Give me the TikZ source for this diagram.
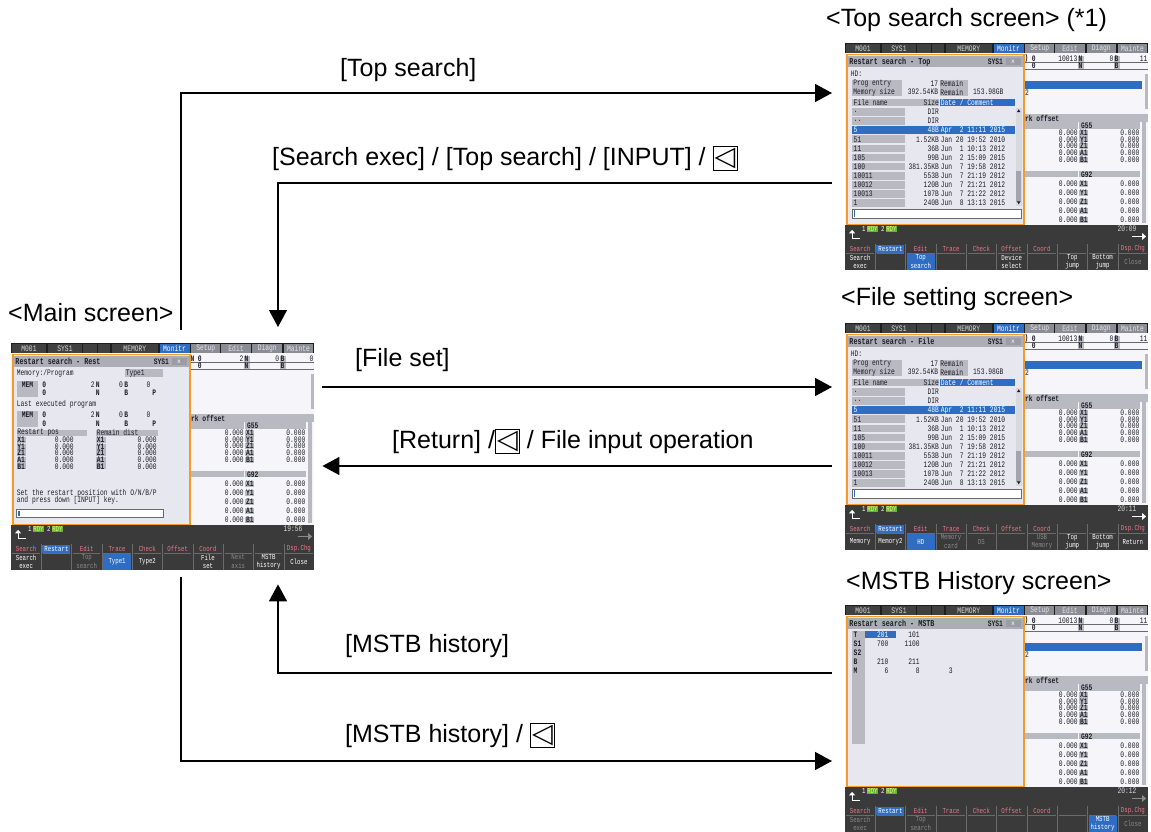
\documentclass[tikz,border=0pt]{standalone}
\usepackage{fontspec}
\setmainfont{Liberation Sans}
\newfontfamily\scrfont[FakeStretch=0.75]{Liberation Mono}
\newfontfamily\symfont{DejaVu Sans}
\usetikzlibrary{arrows.meta, positioning, calc}

\newcommand{\backkey}{{\setlength{\fboxsep}{1.2pt}\setlength{\fboxrule}{0.9pt}\fbox{\symfont\fontsize{27}{27}\selectfont ◁}}}
\newcommand{\scrsz}{\fontsize{8.4}{9}\scrfont}
\newcommand{\keysz}{\fontsize{7.6}{8.2}\scrfont}

% frame of one NC screen: tab bar, work offset panel, status bar, menu groups
\newcommand{\scrbase}[2]{%
  \fill[scrwhite] (0,11) rectangle (320,192);
  \fill[scrdark] (0,0) rectangle (320,11);
  \foreach \a/\b/\t in {1/37/M001, 39/75/SYS1, 106.5/155/MEMORY}{
    \fill[scrtab] (\a,1) rectangle (\b,10.3);
    \node[scrtxt, text=scrtabtext] (tab\t) at ({(\a+\b)/2},5.8) {\t};}
  \fill[scrtab] (76.5,1) rectangle (90.5,10.3);
  \fill[scrtab] (92,1) rectangle (105,10.3);
  \fill[scrblue] (157,1) rectangle (188.5,10.3);
  \node[scrtxt, text=white] (tabMonitr) at (172.7,5.8) {Monitr};
  \foreach \a/\t in {190/Setup, 222/Edit, 255/Diagn, 288/Mainte}{
    \fill[scrgrey] (\a,1) rectangle (\a+31.2,10.3);
    \node[scrtxt, text=scrgreytext] (tab\t) at (\a+15.6,5.8) {\t};}
  % work offset panel
  \draw[scrsep] (189,20.3) -- (320,20.3) (189,27.8) -- (320,27.8);
  \fill[scrcell] (316.3,32.5) rectangle (319.8,70);
  \fill[scrcell] (189,75.5) rectangle (320,83);
  \node[scrbold, anchor=west] (wo) at (190,79.3) {rk offset};
  \foreach \g/\y/\d in {G55/84/7.2, G92/135.5/9.6}{
    \fill[scrcell] (189,\y) rectangle (246.5,\y+6.6);
    \fill[scrcell] (247.5,\y) rectangle (312,\y+6.6);
    \node[scrbold, anchor=west] (\g) at (249,\y+3.5) {\g};
    \foreach \r [count=\k] in {X1,Y1,Z1,A1,B1}{
      \fill[scrcell] (247.5,\y+3.5+\d*\k-3.2) rectangle (256.5,\y+3.5+\d*\k+3.2);
      \node[scrtxt, anchor=east] (a\k\g) at (246,\y+3.5+\d*\k) {0.000};
      \node[scrbold, anchor=west] (l\k\g) at (248,\y+3.5+\d*\k) {\r};
      \node[scrtxt, anchor=east] (b\k\g) at (311,\y+3.5+\d*\k) {0.000};}}
  \fill[scrcell] (313.5,84) rectangle (318,190.5);
  % status bar
  \fill[scrbar] (0,192) rectangle (320,240);
  \draw[white, line width=1.2pt, -{Triangle[length=3.5pt,width=6pt]}] (16,206.5) -- (7.5,206.5) -- (7.5,197.5);
  \foreach \n/\a in {1/20, 2/40}{
    \node[scrtxt, text=white, font=\keysz] (rdyn\n) at (\a,196.8) {\n};
    \node[fill=scrgreen, text=scryellow, font=\keysz, inner sep=0.5pt] (rdy\n) at (\a+9,196.8) {RDY};}
  \node[scrtxt, text=scrtabtext, anchor=east] (clock) at (308,196.3) {#1};
  \draw[#2, line width=1.4pt, -{Triangle[length=4pt,width=6.5pt]}] (303,204.5) -- (318,204.5);
  % menu groups
  \foreach \k/\t in {0/Search, 2/Edit, 3/Trace, 4/Check, 5/Offset, 6/Coord, 9/Dsp.Chg}
    \node[grplbl] (grp\k) at (\k*32+16,217.6) {\t};
  \node[grplbl, text=white, fill=scrblue, minimum width=28pt, minimum height=7.6pt] (grp1) at (48,217.6) {Restart};
  \foreach \k in {1,...,9} \draw[scrsep] (\k*32,212.5) -- (\k*32,240);
  \foreach \k in {0,...,9} \draw[scrsep] (\k*32+1.5,221.8) -- (\k*32+30.5,221.8);
}

% program number rows at the top of the panel
\newcommand{\scrhead}[3]{%
  \fill[scrcell] (246,13.6) rectangle (252.5,19.6);
  \fill[scrcell] (284,13.6) rectangle (290.5,19.6);
  \fill[scrcell] (246,21.1) rectangle (252.5,27.1);
  \fill[scrcell] (284,21.1) rectangle (290.5,27.1);
  \node[scrbold, anchor=west] (h1) at (189.5,16.6) {#1};
  \node[scrbold, anchor=west] (h2) at (197,16.6) {0};
  \node[scrtxt, anchor=east] (h3) at (245.5,16.6) {#2};
  \node[scrbold, anchor=west] (h4) at (246.5,16.6) {N};
  \node[scrtxt, anchor=east] (h5) at (283.5,16.6) {0};
  \node[scrbold, anchor=west] (h6) at (284.5,16.6) {B};
  \node[scrtxt, anchor=east] (h7) at (319.5,16.6) {#3};
  \node[scrbold, anchor=west] (h8) at (197,24.1) {0};
  \node[scrbold, anchor=west] (h9) at (246.5,24.1) {N};
  \node[scrbold, anchor=west] (h10) at (284.5,24.1) {B};}

\newcommand{\scrselbar}{%
  \fill[scrblue] (189,40) rectangle (314,48.4);
  \node[scrtxt, anchor=west] (sel2) at (190,52.3) {2};}

% restart search window
\newcommand{\scrpopup}[1]{%
  \fill[scrpane] (2,12) rectangle (189,192);
  \fill[scrtitle] (3.5,14) rectangle (187.5,25.5);
  \node[scrbold, anchor=west, font=\fontsize{9}{9}\scrfont\bfseries] (title) at (4.5,19.8) {Restart search - #1};
  \node[scrbold, anchor=east] (sys) at (167,19.8) {SYS1};
  \node[fill=scrclose, text=white, font=\scrsz, minimum width=15pt, minimum height=7.5pt, inner sep=0pt] (close) at (177.5,19.8) {×};
  \draw[scrorange, line width=1.3pt] (2,12) rectangle (189,192);}

% file list of the top search / file setting window
\newcommand{\scrfiles}{%
  \node[scrtxt, anchor=west] (hd) at (6,32.3) {HD:};
  \fill[scrcell] (7.7,39) rectangle (59.8,56);
  \fill[scrcell] (100,39) rectangle (130,56);
  \node[scrtxt, anchor=west] (pe) at (8.5,43) {Prog entry};
  \node[scrtxt, anchor=west] (ms) at (8.5,52) {Memory size};
  \node[scrtxt, anchor=east] (pev) at (98.5,43) {17};
  \node[scrtxt, anchor=east] (msv) at (98.5,52) {392.54KB};
  \node[scrtxt, anchor=west] (rm1) at (100.5,43) {Remain};
  \node[scrtxt, anchor=west] (rm2) at (100.5,52) {Remain};
  \node[scrtxt, anchor=east] (rmv) at (167.5,52) {153.98GB};
  \fill[scrcell] (7.7,59) rectangle (99.5,67);
  \fill[scrblue] (100,59) rectangle (179.3,67);
  \node[scrtxt, anchor=west] (fn) at (9,63) {File name};
  \node[scrtxt, anchor=east] (fs) at (99.3,63) {Size};
  \node[scrtxt, anchor=west, text=white] (fd) at (101,63) {Date / Comment};
  \fill[scrblue] (7.7,88.2) rectangle (179.3,96.4);
  \foreach \f/\s/\d [count=\k from 0] in {./DIR/{}, ../DIR/{}, 5/48B/Apr~~2 11:11 2015,
      51/1.52KB/Jan 20 19:52 2010, 11/36B/Jun~~1 10:13 2012, 105/99B/Jun~~2 15:09 2015,
      100/381.35KB/Jun~~7 19:58 2012, 10011/553B/Jun~~7 21:19 2012, 10012/120B/Jun~~7 21:21 2012,
      10013/107B/Jun~~7 21:22 2012, 1/240B/Jun~~8 13:13 2015}{
    \ifnum\k=2 \colorlet{rowc}{white}\else
      \colorlet{rowc}{scrtext}\fill[scrcell] (7.7,73+9.6*\k-4.1) rectangle (63.3,73+9.6*\k+4.1);\fi
    \node[scrtxt, text=rowc, anchor=west] (fn\k) at (9,73+9.6*\k) {\f};
    \node[scrtxt, text=rowc, anchor=east] (fs\k) at (99.3,73+9.6*\k) {\s};
    \node[scrtxt, text=rowc, anchor=west] (fd\k) at (101,73+9.6*\k) {\d};}
  \fill[scrcell!55] (180.4,68.3) rectangle (186.4,172);
  \fill[scrcell!130] (180.9,135) rectangle (185.9,168);
  \fill[scrtext] (181.6,73) -- (185.2,73) -- (183.4,70) -- cycle;
  \fill[scrtext] (181.6,167.5) -- (185.2,167.5) -- (183.4,170.5) -- cycle;
  \draw[scrsep, fill=white] (7.7,175.5) rectangle (186.4,185.5);
  \fill[scrblue] (9,177) rectangle (11,184);}

\begin{document}
\begin{tikzpicture}[x=1pt, y=-1pt,
  lbl/.style={font=\fontsize{25}{29}\selectfont, inner sep=0pt, anchor=west},
  flow/.style={line width=1.4pt, -{Triangle[length=17pt,width=18pt]}},
  scrnode/.style={minimum width=303pt, minimum height=227pt, inner sep=0pt, anchor=north west},
  scrtxt/.style={font=\scrsz, text=scrtext, inner sep=0pt},
  scrbold/.style={scrtxt, font=\scrsz\bfseries},
  scrsep/.style={draw=scrsepc, line width=0.4pt},
  grplbl/.style={font=\keysz, text=scrpink, inner sep=0pt},
  keyon/.style={font=\keysz, text=white, align=center, inner sep=0pt},
  keyoff/.style={keyon, text=scrmute},
  keysel/.style={keyon, fill=scrblue, minimum width=28pt, minimum height=16pt}]
  % Define colors
  \definecolor{scrdark}{HTML}{1E1E1E}
  \definecolor{scrtab}{HTML}{404040}
  \definecolor{scrtabtext}{HTML}{D8D8D8}
  \definecolor{scrgrey}{HTML}{8C8C94}
  \definecolor{scrgreytext}{HTML}{E4E4EC}
  \definecolor{scrblue}{HTML}{2E6DC2}
  \definecolor{scrpane}{HTML}{E7E7EF}
  \definecolor{scrwhite}{HTML}{F6F6FA}
  \definecolor{scrcell}{HTML}{B9B9C2}
  \definecolor{scrtitle}{HTML}{ADADB6}
  \definecolor{scrclose}{HTML}{9C9CA6}
  \definecolor{scrorange}{HTML}{F39A2B}
  \definecolor{scrbar}{HTML}{3A3A3A}
  \definecolor{scrpink}{HTML}{E8798B}
  \definecolor{scrmute}{HTML}{8A8A8A}
  \definecolor{scrgreen}{HTML}{5CB82C}
  \definecolor{scryellow}{HTML}{F4F08A}
  \definecolor{scrtext}{HTML}{1E1E28}
  \definecolor{scrsepc}{HTML}{6A6A6A}

  \useasboundingbox (0,0) rectangle (1151,832);

  % Screen nodes
  \node[scrnode] (mainscr) at (11,343) {};
  \node[scrnode] (topscr) at (845,43) {};
  \node[scrnode] (filescr) at (845,323) {};
  \node[scrnode] (mstbscr) at (845,605) {};

  % Main screen: restart search (Rest)
  \begin{scope}[shift={(11,343)}, x=0.947pt, y=-0.946pt, name prefix=main-]
    \scrbase{19:56}{scrmute}
    \scrhead{N}{2}{0}
    \scrpopup{Rest}
    \node[scrtxt, anchor=west] (mp) at (6,31.8) {Memory:/Program};
    \fill[scrcell] (120,28) rectangle (160.5,35.8);
    \node[scrtxt, anchor=west] (ty) at (121,31.9) {Type1};
    \foreach \y/\n in {44/a, 76/b}{
      \fill[scrcell] (6,\y-4) rectangle (29,\y+13);
      \node[scrbold] (mem\n) at (17.5,\y) {MEM};
      \node[scrbold, anchor=west] (o\n) at (33,\y) {0};
      \node[scrtxt, anchor=east] (nv\n) at (88.5,\y) {2};
      \node[scrbold, anchor=west] (n\n) at (89.5,\y) {N};
      \node[scrtxt, anchor=east] (bv\n) at (118.5,\y) {0};
      \node[scrbold, anchor=west] (b\n) at (119.5,\y) {B};
      \node[scrtxt, anchor=west] (pv\n) at (143,\y) {0};
      \node[scrbold, anchor=west] (oo\n) at (33,\y+9) {0};
      \node[scrbold, anchor=west] (nn\n) at (89.5,\y+9) {N};
      \node[scrbold, anchor=west] (bb\n) at (119.5,\y+9) {B};
      \node[scrbold, anchor=west] (pp\n) at (149,\y+9) {P};}
    \node[scrtxt, anchor=west] (lep) at (6,65) {Last executed program};
    \fill[scrcell] (6,91.5) rectangle (80,98.5);
    \fill[scrcell] (90,91.5) rectangle (155.5,98.5);
    \node[scrtxt, anchor=west] (rp) at (6.5,95) {Restart pos};
    \node[scrtxt, anchor=west] (rd) at (90.5,95) {Remain dist};
    \foreach \r [count=\k from 0] in {X1,Y1,Z1,A1,B1}{
      \fill[scrcell] (6,99.3+7*\k) rectangle (16,105.7+7*\k);
      \fill[scrcell] (90,99.3+7*\k) rectangle (100,105.7+7*\k);
      \node[scrbold, anchor=west] (ra\r) at (6.5,102.5+7*\k) {\r};
      \node[scrtxt, anchor=east] (rv\r) at (66.5,102.5+7*\k) {0.000};
      \node[scrbold, anchor=west] (da\r) at (90.5,102.5+7*\k) {\r};
      \node[scrtxt, anchor=east] (dv\r) at (154,102.5+7*\k) {0.000};}
    \node[scrtxt, anchor=west] (msg1) at (6,158.8) {Set the restart position with O/N/B/P};
    \node[scrtxt, anchor=west] (msg2) at (6,166) {and press down [INPUT] key.};
    \draw[scrsep, fill=white] (6,176) rectangle (161,184.5);
    \fill[scrblue] (7.2,177.3) rectangle (9.2,183.2);
    \foreach \k/\s/\t in {0/keyon/Search\\exec, 2/keyoff/Top\\search, 3/keysel/Type1, 4/keyon/Type2,
        6/keyon/File\\set, 7/keyoff/Next\\axis, 8/keyon/MSTB\\history, 9/keyon/Close}
      \node[\s] (key\k) at (\k*32+16,231) {\t};
  \end{scope}

  % Top search screen
  \begin{scope}[shift={(845,43)}, x=0.947pt, y=-0.946pt, name prefix=top-]
    \scrbase{20:09}{white}
    \scrhead{)}{10013}{11}
    \scrselbar
    \scrpopup{Top}
    \scrfiles
    \foreach \k/\s/\t in {0/keyon/Search\\exec, 2/keysel/Top\\search, 5/keyon/Device\\select,
        7/keyon/Top\\jump, 8/keyon/Bottom\\jump, 9/keyoff/Close}
      \node[\s] (key\k) at (\k*32+16,231) {\t};
  \end{scope}

  % File setting screen
  \begin{scope}[shift={(845,323)}, x=0.947pt, y=-0.946pt, name prefix=file-]
    \scrbase{20:11}{white}
    \scrhead{)}{10013}{11}
    \scrselbar
    \scrpopup{File}
    \scrfiles
    \foreach \k/\s/\t in {0/keyon/Memory, 1/keyon/Memory2, 2/keysel/HD, 3/keyoff/Memory\\card,
        4/keyoff/DS, 6/keyoff/USB\\Memory, 7/keyon/Top\\jump, 8/keyon/Bottom\\jump, 9/keyon/Return}
      \node[\s] (key\k) at (\k*32+16,231) {\t};
  \end{scope}

  % MSTB history screen
  \begin{scope}[shift={(845,605)}, x=0.947pt, y=-0.946pt, name prefix=mstb-]
    \scrbase{20:12}{scrmute}
    \scrhead{)}{10013}{11}
    \scrselbar
    \scrpopup{MSTB}
    \fill[scrcell] (7.7,27) rectangle (21,146.5);
    \fill[scrblue] (21.5,27.5) rectangle (54,34.5);
    \foreach \t/\a/\b/\c [count=\k from 0] in {T/201/101/{}, S1/700/1100/{}, S2/{}/{}/{}, B/210/211/{}, M/6/8/3}{
      \ifnum\k=0 \colorlet{rowc}{white}\else\colorlet{rowc}{scrtext}\fi
      \node[scrbold, anchor=west] (mt\k) at (9,31+9.5*\k) {\t};
      \node[scrtxt, text=rowc, anchor=east] (ma\k) at (46,31+9.5*\k) {\a};
      \node[scrtxt, anchor=east] (mb\k) at (79,31+9.5*\k) {\b};
      \node[scrtxt, anchor=east] (mc\k) at (114,31+9.5*\k) {\c};}
    \foreach \k/\s/\t in {0/keyoff/Search\\exec, 2/keyoff/Top\\search, 8/keysel/MSTB\\history, 9/keyoff/Close}
      \node[\s] (key\k) at (\k*32+16,231) {\t};
  \end{scope}

  % Screen titles
  \node[lbl] (htop) at (826,20) {<Top search screen> (*1)};
  \node[lbl] (hfile) at (841,299) {<File setting screen>};
  \node[lbl] (hmstb) at (846,583) {<MSTB History screen>};
  \node[lbl] (hmain) at (8,313) {<Main screen>};

  % Key labels
  \node[lbl] (ltop) at (340,70) {[Top search]};
  \node[lbl] (lexec) at (272,158) {[Search exec] / [Top search] / [INPUT] / \backkey};
  \node[lbl] (lfile) at (355,360) {[File set]};
  \node[lbl] (lret) at (392,441) {[Return] /\backkey{} / File input operation};
  \node[lbl] (lmstb) at (345,646) {[MSTB history]};
  \node[lbl] (lmstbk) at (345,735) {[MSTB history] / \backkey};

  % Connectors
  \coordinate (ts0) at ($(mainscr.north west)+(170,-13)$);
  \coordinate (ts1) at ($(topscr.north west)+(-13,50)$);
  \coordinate (ex0) at ($(topscr.north west)+(-13,140)$);
  \coordinate (ex1) at ($(mainscr.north west)+(267,-16)$);
  \coordinate (fs0) at ($(mainscr.north east)+(8,44)$);
  \coordinate (fs1) at ($(filescr.north west)+(-13,64)$);
  \coordinate (rt0) at ($(filescr.north west)+(-13,143)$);
  \coordinate (rt1) at ($(mainscr.north east)+(8,123)$);
  \coordinate (mh0) at ($(mstbscr.north west)+(-13,68)$);
  \coordinate (mh1) at ($(mainscr.south west)+(267,14)$);
  \coordinate (mk0) at ($(mainscr.south west)+(170,7)$);
  \coordinate (mk1) at ($(mstbscr.north west)+(-13,156)$);
  \draw[flow] (ts0) |- (ts1);
  \draw[flow] (ex0) -| (ex1);
  \draw[flow] (fs0) -- (fs1);
  \draw[flow] (rt0) -- (rt1);
  \draw[flow] (mh0) -| (mh1);
  \draw[flow] (mk0) |- (mk1);
\end{tikzpicture}
\end{document}
